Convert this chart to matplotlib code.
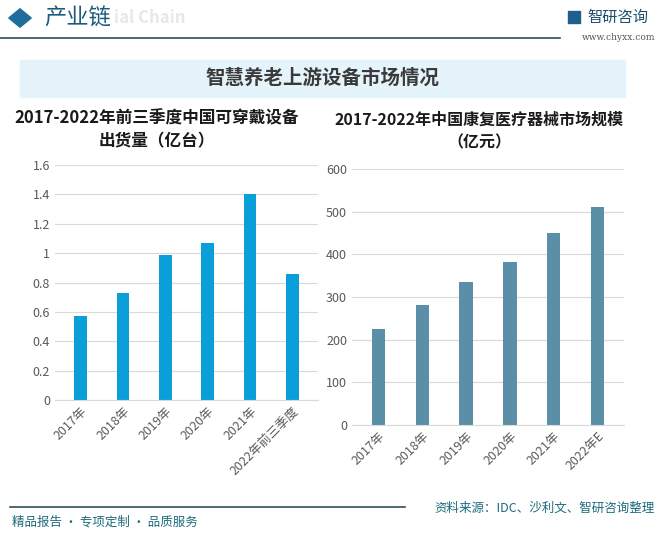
import matplotlib
matplotlib.use("Agg")
import matplotlib.pyplot as plt
from matplotlib.patches import Rectangle, RegularPolygon

plt.rcParams['font.family'] = ['Noto Sans CJK SC', 'DejaVu Sans']

# data
left_cats = ["2017年", "2018年", "2019年", "2020年", "2021年", "2022年前三季度"]
left_vals = [0.57, 0.73, 0.99, 1.07, 1.40, 0.86]
left_ticks = [0, 0.2, 0.4, 0.6, 0.8, 1, 1.2, 1.4, 1.6]
left_tick_labels = ["0", "0.2", "0.4", "0.6", "0.8", "1", "1.2", "1.4", "1.6"]

right_cats = ["2017年", "2018年", "2019年", "2020年", "2021年", "2022年E"]
right_vals = [225, 282, 335, 382, 451, 511]
right_ticks = [0, 100, 200, 300, 400, 500, 600]

W, H = 661, 541
fig = plt.figure(figsize=(W / 100, H / 100), dpi=100)


def fx(x):
    return x / W


def fy(y):
    return 1 - y / H


# header
fig.patches.append(RegularPolygon((fx(20), fy(18)), 4, radius=0.017, orientation=0,
                                  transform=fig.transFigure, color="#1f6d9c"))
fig.text(fx(114), fy(18), "ial Chain", fontsize=12, color="#e4e9ec",
         va="center", ha="left", fontweight="bold")
fig.text(fx(44), fy(18), "产业链", fontsize=16, color="#1b5a7a", va="center", ha="left")
fig.add_artist(plt.Line2D([0, fx(560)], [fy(38), fy(38)], color="#2f4f5c", lw=1.2))
fig.patches.append(Rectangle((fx(568), fy(23)), fx(12), 12 / H, transform=fig.transFigure,
                             color="#1f5f8c"))
fig.text(fx(587), fy(17), "智研咨询", fontsize=11, color="#1b4f6e", va="center", ha="left")
fig.text(fx(655), fy(38), "www.chyxx.com", fontsize=6.5, color="#555555", va="center",
         ha="right", family="DejaVu Serif")

# title box
fig.patches.append(Rectangle((fx(20), fy(97)), fx(605), 37 / H, transform=fig.transFigure,
                             color="#e5f3fb", zorder=0))
fig.text(fx(322), fy(78), "智慧养老上游设备市场情况", fontsize=14, fontweight="bold",
         color="#3a3a3a", ha="center", va="center")


def style_axes(ax):
    for s in ["top", "right", "left"]:
        ax.spines[s].set_visible(False)
    ax.spines["bottom"].set_color("#d9d9d9")
    ax.yaxis.grid(True, color="#d9d9d9", lw=0.8)
    ax.set_axisbelow(True)
    ax.tick_params(axis="both", length=0, labelsize=9, colors="#595959")


# left chart
ax1 = fig.add_axes([fx(55), fy(400), fx(263), 235 / H])
ax1.bar(range(len(left_cats)), left_vals, width=0.3, color="#0a9fd9")
ax1.set_ylim(0, 1.6)
ax1.set_yticks(left_ticks)
ax1.set_yticklabels(left_tick_labels)
ax1.set_xlim(-0.6, len(left_cats) - 0.4)
ax1.set_xticks(range(len(left_cats)))
ax1.set_xticklabels(left_cats, rotation=45, ha="right", rotation_mode="anchor")
style_axes(ax1)
fig.text(fx(157), fy(118), "2017-2022年前三季度中国可穿戴设备", fontsize=12, fontweight="bold",
         color="#1a1a1a", ha="center", va="center")
fig.text(fx(157), fy(141), "出货量（亿台）", fontsize=12, fontweight="bold",
         color="#1a1a1a", ha="center", va="center")

# right chart
ax2 = fig.add_axes([fx(352), fy(425), fx(272), 256 / H])
ax2.bar(range(len(right_cats)), right_vals, width=0.3, color="#5b8fa8")
ax2.set_ylim(0, 600)
ax2.set_yticks(right_ticks)
ax2.set_xlim(-0.6, len(right_cats) - 0.4)
ax2.set_xticks(range(len(right_cats)))
ax2.set_xticklabels(right_cats, rotation=45, ha="right", rotation_mode="anchor")
style_axes(ax2)
fig.text(fx(479), fy(120), "2017-2022年中国康复医疗器械市场规模", fontsize=11.5, fontweight="bold",
         color="#1a1a1a", ha="center", va="center")
fig.text(fx(479), fy(142), "（亿元）", fontsize=11.5, fontweight="bold",
         color="#1a1a1a", ha="center", va="center")

# footer
fig.add_artist(plt.Line2D([fx(10), fx(405)], [fy(507), fy(507)], color="#2f4f5c", lw=1.2))
fig.text(fx(12), fy(522), "精品报告 · 专项定制 · 品质服务", fontsize=9, color="#1d6b7c",
         ha="left", va="center")
fig.text(fx(655), fy(508), "资料来源：IDC、沙利文、智研咨询整理", fontsize=9, color="#1d6b7c",
         ha="right", va="center")

fig.savefig("out.png", dpi=100)
